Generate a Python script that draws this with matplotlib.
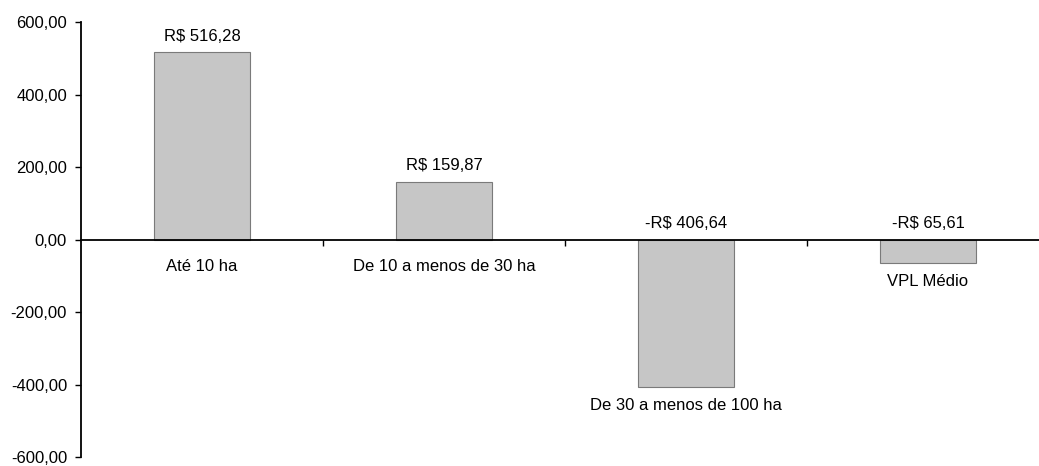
import matplotlib
matplotlib.use("Agg")
import matplotlib.pyplot as plt

plt.rcParams['font.family'] = ['Liberation Sans', 'DejaVu Sans']

categories = ["Até 10 ha", "De 10 a menos de 30 ha", "De 30 a menos de 100 ha", "VPL Médio"]
values = [516.28, 159.87, -406.64, -65.61]
yticks = [-600, -400, -200, 0, 200, 400, 600]


def brl(v):
    s = f"{abs(v):,.2f}".replace(",", "X").replace(".", ",").replace("X", ".")
    return ("-R$ " if v < 0 else "R$ ") + s


fig = plt.figure(figsize=(10.39, 4.66), dpi=100)
ax = fig.add_axes([81 / 1039, 1 - 457 / 466, 968 / 1039, 435 / 466])

x = list(range(len(categories)))
ax.bar(x, values, width=0.4, color="#c6c6c6", edgecolor="#7a7a7a", linewidth=0.8, zorder=2)

ax.set_xlim(-0.5, len(categories) - 0.5)
ax.set_ylim(-600, 600)

ax.spines['top'].set_visible(False)
ax.spines['right'].set_visible(False)
ax.spines['bottom'].set_position(('data', 0))
ax.spines['bottom'].set_linewidth(1.3)
ax.spines['left'].set_linewidth(1.3)
ax.spines['bottom'].set_zorder(3)

ax.set_yticks(yticks)
ax.set_yticklabels([f"{v:.2f}".replace(".", ",") for v in yticks])
ax.tick_params(axis='y', direction='out', length=4, width=1, labelsize=12, pad=6)

ax.set_xticks([i + 0.5 for i in range(len(categories) - 1)])
ax.set_xticklabels([])
ax.tick_params(axis='x', direction='out', length=4, width=1)

for xi, v, cat in zip(x, values, categories):
    if v >= 0:
        ax.annotate(brl(v), (xi, v), xytext=(0, 6), textcoords='offset points',
                    ha='center', va='bottom', fontsize=12)
        ax.annotate(cat, (xi, 0), xytext=(0, -14), textcoords='offset points',
                    ha='center', va='top', fontsize=12)
    else:
        ax.annotate(brl(v), (xi, 0), xytext=(0, 6), textcoords='offset points',
                    ha='center', va='bottom', fontsize=12)
        ax.annotate(cat, (xi, v), xytext=(0, -8), textcoords='offset points',
                    ha='center', va='top', fontsize=12)

fig.savefig("out.png", dpi=100)
